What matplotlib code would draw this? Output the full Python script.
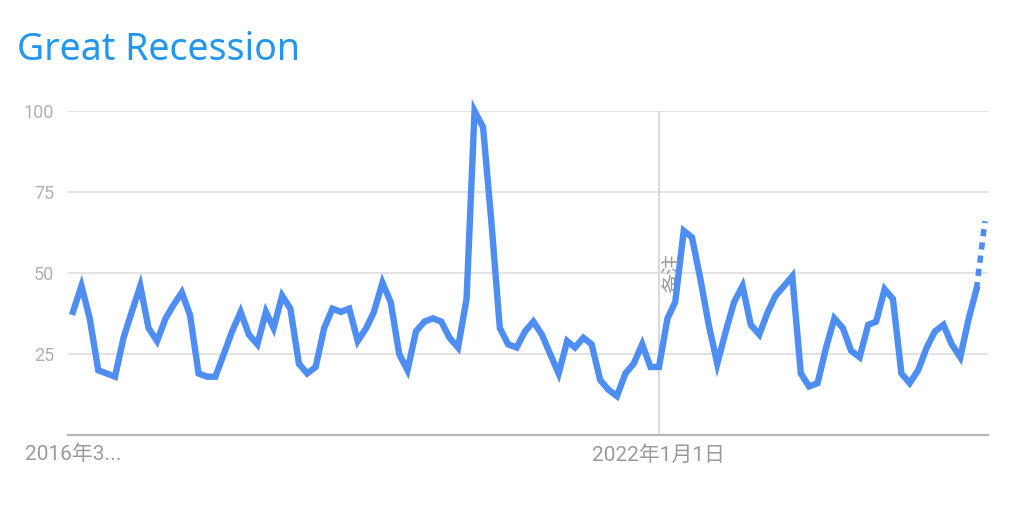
import matplotlib
matplotlib.use("Agg")
import matplotlib.pyplot as plt
import pandas as pd

title = "Great Recession"
start_month = "2016-03-01"
values = [38, 46, 36, 20, 19, 18, 30, 38, 46, 33,
          29, 36, 40, 44, 37, 19, 18, 18, 25, 32,
          38, 31, 28, 38, 33, 43, 39, 22, 19, 21,
          33, 39, 38, 39, 29, 33, 38, 47, 41, 25,
          20, 32, 35, 36, 35, 30, 27, 42, 100, 95,
          66, 33, 28, 27, 32, 35, 31, 25, 19, 29,
          27, 30, 28, 17, 14, 12, 19, 22, 28, 21,
          21, 36, 41, 63, 61, 48, 34, 22, 32, 41,
          46, 34, 31, 38, 43, 46, 49, 19, 15, 16,
          27, 36, 33, 26, 24, 34, 35, 45, 42, 19,
          16, 20, 27, 32, 34, 28, 24, 36, 45, 66]
n_partial = 1  # last point(s) incomplete -> dotted
y_ticks = [25, 50, 75, 100]
x_tick_dates = ["2016-03-01", "2022-01-01"]
x_tick_labels = ["2016年3...", "2022年1月1日"]
note_date = "2022-01-01"
note_text = "备注"

dates = pd.date_range(start_month, periods=len(values), freq="MS")

fam = ['Roboto', 'Noto Sans CJK SC', 'DejaVu Sans']
plt.rcParams['font.family'] = fam

W, H = 1013, 505
fig = plt.figure(figsize=(W / 100, H / 100), dpi=100)
ax = fig.add_axes([68 / W, (H - 435) / H, (988 - 68) / W, (435 - 111) / H])

line_color = "#4e8ef2"
solid_end = len(values) - n_partial
ax.plot(dates[:solid_end], values[:solid_end], color=line_color, lw=4.6,
        solid_joinstyle="miter", clip_on=False, zorder=3)
ax.plot(dates[solid_end - 1:], values[solid_end - 1:], color=line_color, lw=4.0,
        linestyle=(0, (1.3, 1.1)), dash_capstyle="butt", clip_on=False, zorder=3)

ax.set_ylim(0, 100)
ax.set_xlim(dates[0] - pd.Timedelta(days=18), dates[-1] + pd.Timedelta(days=11))

ax.set_yticks(y_ticks)
ax.set_yticklabels([str(v) for v in y_ticks])
ax.yaxis.grid(True, color="#e0e0e0", lw=1.3)
ax.set_axisbelow(True)

xt = pd.to_datetime(x_tick_dates)
ax.set_xticks(xt)
ax.set_xticklabels(x_tick_labels)

ax.tick_params(axis="y", length=0, pad=10, labelsize=13, labelcolor="#b0b0b0")
ax.tick_params(axis="x", length=0, pad=7, labelsize=15, labelcolor="#9a9a9a")
for lab in ax.get_xticklabels():
    lab.set_family(fam)

for s in ["left", "right", "top"]:
    ax.spines[s].set_visible(False)
ax.spines["bottom"].set_color("#b5b5b5")
ax.spines["bottom"].set_linewidth(1.6)

nd = pd.Timestamp(note_date)
ax.axvline(nd, color="#d5d5d5", lw=1.3, zorder=1)
ax.annotate(note_text, xy=(nd, 50), xytext=(2.5, 0), textcoords="offset points",
            rotation=90, ha="left", va="center", fontsize=14.5, color="#9a9a9a",
            family=['Noto Sans CJK SC', 'DejaVu Sans'], zorder=2)

fig.text(17 / W, 1 - 50 / H, title, color="#2196f3", fontsize=27,
         family=['Noto Sans', 'DejaVu Sans'], ha="left", va="center")

fig.savefig("out.png", dpi=100)
